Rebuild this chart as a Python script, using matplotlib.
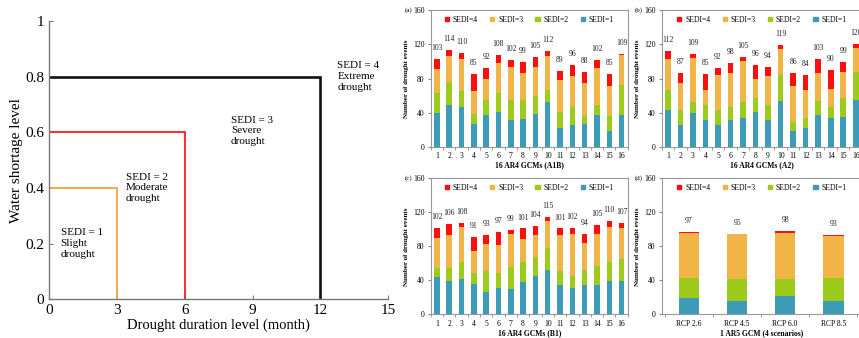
import matplotlib
matplotlib.use("Agg")
import matplotlib.pyplot as plt
import numpy as np
from matplotlib.patches import Patch

plt.rcParams['font.family'] = ['Liberation Serif', 'DejaVu Serif']

# ---------------- data ----------------
# left panel: SEDI thresholds (duration month, water shortage level)
sedi_dur = [3, 6, 12]
sedi_short = [0.4, 0.6, 0.8]
sedi_line_colors = ['#F5A33B', '#FF1A1A', '#111111']
sedi_texts = ["SEDI = 1\nSlight\ndrought", "SEDI = 2\nModerate\ndrought",
              "SEDI = 3\nSevere\ndrought", "SEDI = 4\nExtreme\ndrought"]
sedi_text_pos = [(0.5, 0.255), (3.4, 0.455), (8.05, 0.66), (12.75, 0.855)]

gcm_labels = [str(i) for i in range(1, 17)]
rcp_labels = ["RCP 2.6", "RCP 4.5", "RCP 6.0", "RCP 8.5"]

# counts per SEDI level
a_s1 = [39, 49, 46, 27, 37, 41, 31, 33, 38, 52, 22, 26, 27, 37, 18, 37]
a_s2 = [24, 27, 19, 11, 18, 22, 24, 22, 21, 15, 19, 21, 9, 12, 18, 35]
a_s3 = [28, 30, 38, 27, 25, 35, 39, 32, 35, 39, 37, 36, 39, 43, 35, 35]
a_s4 = [12, 8, 7, 20, 12, 10, 8, 12, 11, 6, 11, 13, 13, 10, 14, 2]

b_s1 = [43, 25, 40, 31, 25, 31, 34, 41, 31, 54, 18, 22, 37, 34, 35, 55]
b_s2 = [24, 18, 13, 18, 18, 15, 19, 16, 18, 30, 11, 12, 17, 12, 22, 33]
b_s3 = [36, 32, 51, 17, 41, 41, 48, 22, 34, 31, 42, 32, 32, 22, 31, 28]
b_s4 = [9, 12, 5, 19, 8, 11, 4, 17, 11, 4, 15, 18, 17, 22, 11, 4]

c_s1 = [44, 39, 41, 36, 26, 31, 30, 38, 45, 52, 34, 31, 34, 34, 39, 39]
c_s2 = [10, 16, 20, 13, 25, 18, 26, 23, 23, 26, 17, 14, 18, 23, 22, 26]
c_s3 = [36, 38, 42, 26, 32, 33, 38, 28, 25, 32, 42, 49, 32, 38, 42, 37]
c_s4 = [12, 13, 5, 16, 10, 15, 5, 12, 11, 5, 8, 8, 10, 10, 7, 5]

d_s1 = [19, 16, 21, 16]
d_s2 = [24, 25, 20, 27]
d_s3 = [53, 54, 55, 49]
d_s4 = [1, 0, 2, 1]

col_s1 = '#3C9BB6'
col_s2 = '#9CCB1B'
col_s3 = '#F1B446'
col_s4 = '#FF0E0E'

W, H = 859, 338
fig = plt.figure(figsize=(W / 100, H / 100), dpi=100)


def rect(x0, x1, ytop, ybot):
    return [x0 / W, 1 - ybot / H, (x1 - x0) / W, (ybot - ytop) / H]


# ---------------- left panel ----------------
ax0 = fig.add_axes(rect(49.3, 388, 21, 299.3))
for d, s, c in zip(sedi_dur, sedi_short, sedi_line_colors):
    lw = 1.9 if c == '#111111' else 1.3
    ax0.plot([0, d, d], [s, s, 0], color=c, lw=lw, solid_joinstyle='miter')
for (tx, ty), t in zip(sedi_text_pos, sedi_texts):
    ax0.text(tx, ty, t, fontsize=8, va='top', ha='left', linespacing=1.25)
ax0.set_xlim(0, 15)
ax0.set_ylim(0, 1)
ax0.set_xticks([0, 3, 6, 9, 12, 15])
ax0.set_yticks([0, 0.2, 0.4, 0.6, 0.8, 1])
ax0.set_yticklabels(['0', '0.2', '0.4', '0.6', '0.8', '1'])
ax0.tick_params(direction='in', length=3, labelsize=11, color='#777777')
for sp in ['top', 'right']:
    ax0.spines[sp].set_visible(False)
for sp in ['left', 'bottom']:
    ax0.spines[sp].set_color('#777777')
    ax0.spines[sp].set_linewidth(1.0)
ax0.set_xlabel('Drought duration level (month)', fontsize=10.5, labelpad=1)
ax0.set_ylabel('Water shortage level', fontsize=11, labelpad=2)

FS = 5.5


# ---------------- bar panels ----------------
def bar_panel(pos, s1, s2, s3, s4, labels, xlabel, tag, xlim, width):
    ax = fig.add_axes(pos)
    x = np.arange(1, len(s1) + 1)
    s1 = np.array(s1); s2 = np.array(s2); s3 = np.array(s3); s4 = np.array(s4)
    ax.bar(x, s1, width, color=col_s1, zorder=2)
    ax.bar(x, s2, width, bottom=s1, color=col_s2, zorder=2)
    ax.bar(x, s3, width, bottom=s1 + s2, color=col_s3, zorder=2)
    ax.bar(x, s4, width, bottom=s1 + s2 + s3, color=col_s4, zorder=2)
    tot = s1 + s2 + s3 + s4
    for xi, t in zip(x, tot):
        ax.annotate(str(t), (xi, t), xytext=(0, 5), textcoords='offset points',
                    ha='center', va='bottom', fontsize=FS, color='#222222')
    ax.set_xlim(*xlim)
    ax.set_ylim(0, 160)
    ax.set_yticks([0, 40, 80, 120, 160])
    ax.set_xticks(x)
    ax.set_xticklabels(labels)
    ax.set_xticks(np.arange(0.5, len(s1) + 1, 1.0), minor=True)
    ax.tick_params(axis='x', which='major', length=0, labelsize=FS, pad=4)
    ax.tick_params(axis='x', which='minor', length=2.5, direction='out', color='#888888')
    ax.tick_params(axis='y', length=2.5, direction='out', labelsize=FS, color='#888888', pad=2)
    for sp in ax.spines.values():
        sp.set_color('#999999')
        sp.set_linewidth(0.8)
    ax.set_xlabel(xlabel, fontsize=FS, fontweight='bold', labelpad=1)
    ax.set_ylabel('Number of drought events', fontsize=5, fontweight='bold', labelpad=3)
    handles = [Patch(color=col_s4, label='SEDI=4'), Patch(color=col_s3, label='SEDI=3'),
               Patch(color=col_s2, label='SEDI=2'), Patch(color=col_s1, label='SEDI=1')]
    ax.legend(handles=handles, loc='upper center', bbox_to_anchor=(0.5, 1.0), ncol=4,
              frameon=False, fontsize=FS, handlelength=0.55, handleheight=0.55,
              handletextpad=0.5, columnspacing=1.6, borderaxespad=0.3)
    ax.text(-0.095, 1.0, tag, transform=ax.transAxes, fontsize=5, ha='right', va='center')
    return ax


bar_panel(rect(430.7, 627.8, 10.3, 146.7), a_s1, a_s2, a_s3, a_s4, gcm_labels,
          '16 AR4 GCMs (A1B)', '(a)', (0.5, 16.5), 0.45)
bar_panel(rect(661.7, 862, 10.3, 146.7), b_s1, b_s2, b_s3, b_s4, gcm_labels,
          '16 AR4 GCMs (A2)', '(b)', (0.5, 16.5), 0.45)
bar_panel(rect(430.7, 627.8, 178.3, 314.3), c_s1, c_s2, c_s3, c_s4, gcm_labels,
          '16 AR4 GCMs (B1)', '(c)', (0.5, 16.5), 0.45)
bar_panel(rect(661.7, 862, 178.3, 314.3), d_s1, d_s2, d_s3, d_s4, rcp_labels,
          '1 AR5 GCM (4 scenarios)', '(d)', (0.43, 4.6), 0.43)

fig.savefig('out.png', dpi=100)
